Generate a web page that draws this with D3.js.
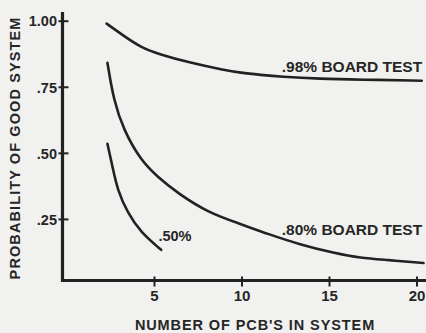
<!DOCTYPE html>
<html>
<head>
<meta charset="utf-8">
<script src="https://cdn.jsdelivr.net/npm/d3@7"></script>
<style>
  html, body { margin: 0; padding: 0; background: #f1f1ef; }
  svg { display: block; }
  text { font-family: "Liberation Sans", Arial, sans-serif; font-weight: bold; fill: #262626; }
</style>
</head>
<body>
<svg id="chart" width="426" height="333"></svg>
<script>
// Number of boards in the system vs. probability the assembled system is good
const board98N = [2.29, 3.26, 4.23, 5.2, 7.09, 8.97, 9.94, 11.1, 12.2, 14.5, 16.8, 20.3];
const board98P = [0.989, 0.943, 0.90, 0.875, 0.84, 0.814, 0.803, 0.795, 0.788, 0.78, 0.777, 0.773];

const board80N = [2.34, 2.69, 3.26, 4.23, 5.2, 6.34, 8.11, 9.94, 11.5, 13.4, 15.3, 16.8, 18.3, 20.4];
const board80P = [0.841, 0.70, 0.587, 0.473, 0.409, 0.348, 0.273, 0.231, 0.193, 0.152, 0.121, 0.102, 0.095, 0.083];

const board50N = [2.34, 2.63, 2.91, 3.49, 4.23, 5.41];
const board50P = [0.534, 0.447, 0.36, 0.273, 0.20, 0.133];

const xTicks = [5, 10, 15, 20];
const xTickLabels = ["5", "10", "15", "20"];
const yTicks = [0.25, 0.5, 0.75, 1.0];
const yTickLabels = [".25", ".50", ".75", "1.00"];

const svg = d3.select("#chart");
const ink = "#222";

const x = d3.scaleLinear().domain([0, 20]).range([66.5, 416.5]);
const y = d3.scaleLinear().domain([0, 1]).range([285, 20.7]);
const axisX = 62.5;
const axisY = 280.5;

// Y axis, ticks crossing the line
const yAxis = d3.axisLeft(y)
  .tickValues(yTicks)
  .tickFormat((d, i) => yTickLabels[i])
  .tickSize(4)
  .tickPadding(1.5);
const gy = svg.append("g").attr("transform", `translate(${axisX},0)`).call(yAxis);
gy.select(".domain").remove();
gy.selectAll(".tick line").attr("x1", 6).attr("x2", -4).attr("stroke", ink).attr("stroke-width", 2);
gy.selectAll(".tick text").attr("font-size", 14.5).attr("font-family", null).attr("fill", ink).attr("dy", "0.36em");

// X axis
const xAxis = d3.axisBottom(x)
  .tickValues(xTicks)
  .tickFormat((d, i) => xTickLabels[i])
  .tickSize(6)
  .tickPadding(3.5);
const gx = svg.append("g").attr("transform", `translate(0,${axisY})`).call(xAxis);
gx.select(".domain").remove();
gx.selectAll(".tick line").attr("y1", -4).attr("y2", 6).attr("stroke", ink).attr("stroke-width", 2);
gx.selectAll(".tick text").attr("font-size", 15).attr("font-family", null).attr("fill", ink);

// Axis lines
svg.append("path")
  .attr("d", `M${axisX},12 L${axisX},${axisY} L426,${axisY}`)
  .attr("fill", "none").attr("stroke", ink).attr("stroke-width", 3.2)
  .attr("stroke-linejoin", "miter");

// Curves
const line = d3.line()
  .x(d => x(d[0]))
  .y(d => y(d[1]))
  .curve(d3.curveBasis);

const series = [
  [board98N, board98P],
  [board80N, board80P],
  [board50N, board50P]
];
svg.append("g").selectAll("path")
  .data(series.map(([n, p]) => n.map((v, i) => [v, p[i]])))
  .join("path")
  .attr("d", line)
  .attr("fill", "none")
  .attr("stroke", ink)
  .attr("stroke-width", 2.6)
  .attr("stroke-linecap", "round");

// Curve labels
const labels = [
  { text: ".98% BOARD TEST", n: 12.3, p: 0.805, size: 15.5 },
  { text: ".80% BOARD TEST", n: 12.3, p: 0.19, size: 15.5 },
  { text: ".50%", n: 5.25, p: 0.165, size: 14.5 }
];
svg.append("g").selectAll("text")
  .data(labels)
  .join("text")
  .attr("x", d => x(d.n))
  .attr("y", d => y(d.p))
  .attr("font-size", d => d.size)
  .text(d => d.text);

// Axis titles
svg.append("text")
  .attr("x", 255)
  .attr("y", 330)
  .attr("text-anchor", "middle")
  .attr("font-size", 14.5)
  .attr("letter-spacing", 0.9)
  .text("NUMBER OF PCB'S IN SYSTEM");

svg.append("text")
  .attr("transform", "translate(20,148) rotate(-90)")
  .attr("text-anchor", "middle")
  .attr("font-size", 14.5)
  .attr("letter-spacing", 1.1)
  .text("PROBABILITY OF GOOD SYSTEM");
</script>
</body>
</html>
